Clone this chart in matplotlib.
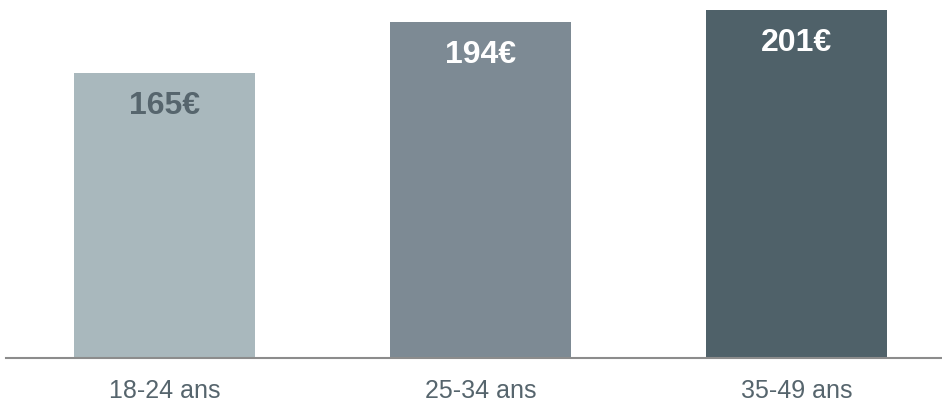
import matplotlib
matplotlib.use("Agg")
import matplotlib.pyplot as plt

categories = ["18-24 ans", "25-34 ans", "35-49 ans"]
values = [165, 194, 201]
labels = ["165€", "194€", "201€"]
bar_colors = ["#a9b8bd", "#7d8a94", "#4f6169"]
label_colors = ["#56656d", "#ffffff", "#ffffff"]

plt.rcParams["font.family"] = ["Liberation Sans", "DejaVu Sans"]

fig = plt.figure(figsize=(9.42, 4.04), dpi=100)
# axes spans from baseline (y=358px) to top of figure
ax = fig.add_axes((6 / 942, 1 - 358 / 404, 936 / 942, 358 / 404))

x = range(len(categories))
ax.bar(x, values, width=0.573, color=bar_colors)

ax.set_xlim(-0.502, 2.46)
ax.set_ylim(0, 207)

for i, (v, lab, c) in enumerate(zip(values, labels, label_colors)):
    ax.annotate(lab, (i, v), xytext=(0, -33), textcoords="offset pixels",
                ha="center", va="center", fontsize=23, fontweight="bold", color=c)

ax.set_xticks(list(x))
ax.set_xticklabels(categories, fontsize=18, color="#56656d")
ax.tick_params(axis="x", length=0, pad=15)
ax.set_yticks([])

for side in ["top", "right", "left"]:
    ax.spines[side].set_visible(False)
ax.spines["bottom"].set_color("#8c8c8c")
ax.spines["bottom"].set_linewidth(1.5)

fig.savefig("out.png", dpi=100)
